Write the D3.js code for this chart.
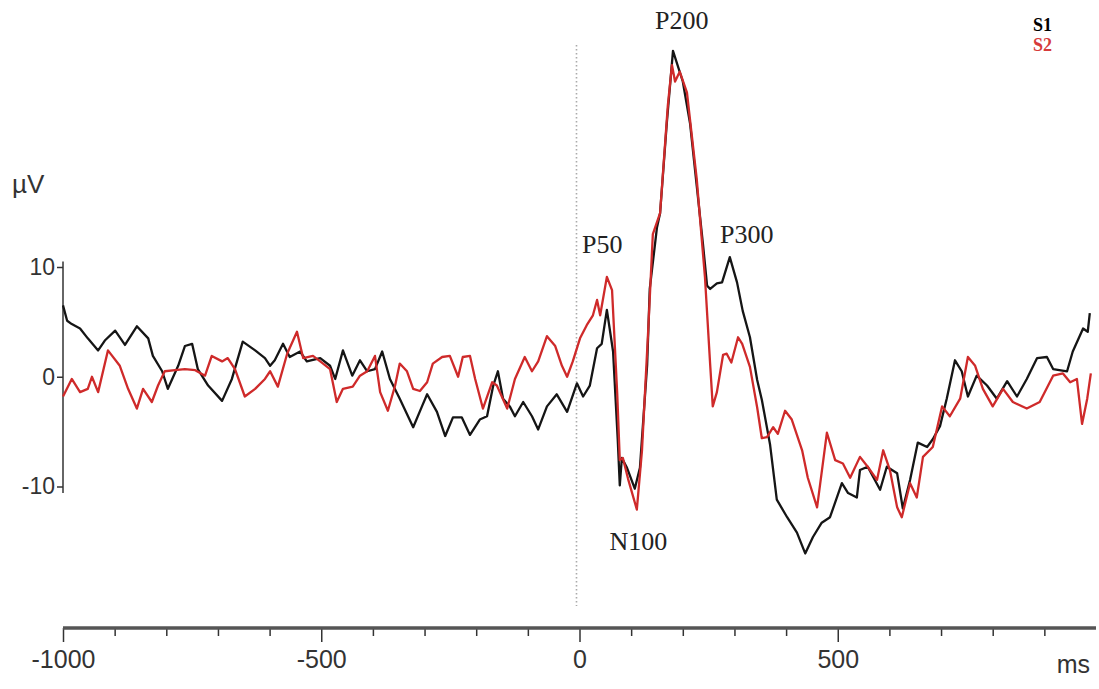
<!DOCTYPE html>
<meta charset="utf-8">
<script src="https://d3js.org/d3.v7.min.js"></script>
<style>
  body { margin: 0; background: #fff; }
  svg text { font-family: "Liberation Sans", Arial, sans-serif; }
</style>
<div id="chart"></div>
<script>
// ERP traces, [time in ms, amplitude in µV]
const s1 = [[-1000,6.5],[-992,5.1],[-983,4.8],[-967,4.4],[-952,3.5],[-932,2.4],[-919,3.3],[-899,4.2],[-880,2.9],[-857,4.6],[-835,3.5],[-826,1.9],[-808,0.5],[-797,-1.1],[-777,1.0],[-764,2.8],[-750,3.0],[-739,0.7],[-719,-0.8],[-692,-2.2],[-673,-0.2],[-652,3.2],[-628,2.4],[-609,1.7],[-599,1.0],[-590,1.5],[-574,3.0],[-561,1.8],[-541,2.3],[-528,1.4],[-502,1.7],[-483,1.0],[-473,-0.2],[-458,2.4],[-440,0.1],[-425,1.5],[-411,0.5],[-396,0.7],[-382,2.3],[-367,-0.2],[-348,-2.0],[-322,-4.6],[-305,-2.7],[-295,-1.6],[-276,-3.2],[-260,-5.4],[-245,-3.7],[-228,-3.7],[-212,-5.3],[-193,-3.9],[-179,-3.6],[-167,-0.8],[-158,0.5],[-148,-2.0],[-135,-2.7],[-125,-3.6],[-109,-2.3],[-92,-3.6],[-80,-4.8],[-63,-2.7],[-44,-1.6],[-24,-3.2],[-5,-0.6],[7,-1.8],[20,-0.8],[34,2.6],[43,3.0],[53,6.1],[65,2.3],[74,-5.7],[78,-9.9],[82,-7.4],[92,-8.3],[107,-10.2],[117,-8.3],[131,1.1],[136,8.0],[150,13.6],[156,14.9],[169,23.1],[181,29.7],[200,26.9],[214,23.1],[227,17.4],[239,12.1],[247,8.3],[253,8.0],[266,8.5],[276,8.6],[291,10.9],[305,8.6],[316,6.0],[330,3.6],[344,-0.3],[353,-2.1],[369,-6.2],[382,-11.2],[402,-12.8],[421,-14.2],[437,-16.1],[452,-14.6],[469,-13.3],[485,-12.8],[508,-9.7],[520,-10.6],[537,-11.0],[543,-8.5],[558,-8.2],[582,-10.3],[595,-8.2],[615,-8.8],[626,-12.0],[640,-9.4],[655,-6.0],[673,-6.4],[684,-5.7],[698,-4.5],[711,-2.0],[727,1.5],[740,0.5],[752,-1.8],[769,0.1],[789,-0.8],[808,-2.0],[828,-0.4],[847,-1.8],[866,-0.2],[886,1.7],[905,1.8],[917,0.7],[944,0.5],[955,2.3],[975,4.4],[984,4.1],[988,5.8]];

const s2 = [[-1000,-1.8],[-983,-0.2],[-967,-1.4],[-952,-1.1],[-944,0],[-932,-1.4],[-913,2.4],[-890,1.0],[-874,-1.1],[-857,-2.9],[-845,-1.1],[-828,-2.3],[-816,-0.8],[-803,0.5],[-783,0.6],[-764,0.7],[-744,0.6],[-725,0.1],[-712,1.9],[-692,1.4],[-681,1.7],[-667,0.7],[-648,-1.8],[-628,-1.1],[-609,-0.2],[-599,0.5],[-584,-0.9],[-566,2.1],[-547,4.1],[-535,1.7],[-516,1.9],[-502,1.4],[-483,0.7],[-470,-2.3],[-458,-1.1],[-439,-0.9],[-425,0.1],[-411,0.5],[-396,1.9],[-386,-1.4],[-371,-3.1],[-357,-0.8],[-348,1.2],[-334,0.5],[-322,-1.1],[-309,-1.3],[-295,-0.5],[-284,1.2],[-266,1.8],[-251,1.9],[-235,0],[-226,1.8],[-212,1.9],[-202,-0.2],[-187,-2.9],[-169,-0.5],[-160,-0.8],[-140,-2.9],[-125,-0.2],[-106,1.8],[-92,0.5],[-80,1.4],[-63,3.7],[-47,2.8],[-34,1.0],[-24,0],[-13,1.4],[1,3.5],[14,4.7],[26,5.6],[34,7.0],[40,5.6],[53,9.1],[63,7.9],[73,-1.5],[78,-7.6],[84,-7.4],[94,-9.3],[111,-12.1],[121,-6.7],[133,4.2],[142,13.0],[156,14.9],[171,24.7],[179,28.4],[185,26.9],[194,27.8],[208,25.9],[227,18.0],[243,9.0],[253,1.1],[258,-2.7],[266,-1.4],[278,2.0],[285,2.1],[294,1.3],[307,3.6],[315,3.0],[330,0.9],[344,-2.8],[353,-5.6],[363,-5.5],[375,-4.6],[384,-5.2],[398,-3.1],[411,-3.9],[431,-6.7],[442,-9.2],[460,-11.9],[479,-5.1],[495,-7.6],[510,-7.9],[524,-9.2],[543,-7.3],[558,-8.2],[576,-9.4],[588,-6.7],[601,-8.5],[615,-11.9],[624,-12.8],[640,-9.7],[653,-11.0],[665,-7.3],[684,-6.4],[702,-2.7],[717,-3.6],[737,-2.0],[752,1.8],[766,1.0],[781,-1.1],[800,-2.7],[820,-1.1],[839,-2.3],[866,-2.9],[891,-2.3],[917,0.1],[936,0.3],[950,-0.5],[963,-0.2],[973,-4.3],[983,-2.0],[990,0.3]];

const series = [
  {name: "S1", values: s1, color: "#151515", label: "#000"},
  {name: "S2", values: s2, color: "#cf2a2a", label: "#d63a3a"}
];

// axis ticks
const xMajorTicks = [-1000, -500, 0, 500];
const xMinorTicks = [-900, -800, -700, -600, -400, -300, -200, -100, 100, 200, 300, 400, 600, 700, 800, 900];
const yTicks = [-10, 0, 10];

// component labels [name, time, amplitude] (text anchor point)
const peaks = [["P200", 198, 31.7], ["P50", 5, 11.3], ["P300", 272, 12.2], ["N100", 58, -15.8]];

const width = 1099, height = 689;

const svg = d3.select("#chart")
  .append("svg")
  .attr("width", width)
  .attr("height", height);

const x = d3.scaleLinear().domain([-1000, 1000]).range([63, 1096]);
const y = d3.scaleLinear().domain([-10, 10]).range([486.5, 267]);

// stimulus onset (dotted)
svg.append("line")
  .attr("x1", x(0) - 3).attr("x2", x(0) - 3)
  .attr("y1", 45).attr("y2", 606)
  .attr("stroke", "#aaa")
  .attr("stroke-width", 1.6)
  .attr("stroke-dasharray", "1.5,2.5");

// Y axis
const yAxis = svg.append("g")
  .attr("transform", "translate(63,0)")
  .call(d3.axisLeft(y).tickValues(yTicks).tickSize(6).tickSizeOuter(0).tickPadding(2).tickFormat(d => String(d)));
yAxis.select(".domain").remove();
yAxis.selectAll("line").attr("stroke", "#333").attr("stroke-width", 1.5);
yAxis.selectAll("text").attr("font-size", 23).attr("fill", "#333");
yAxis.append("line")
  .attr("y1", y(10.5)).attr("y2", y(-10.6))
  .attr("stroke", "#333").attr("stroke-width", 1.5);

svg.append("text")
  .attr("x", 12).attr("y", 193)
  .attr("font-size", 26)
  .attr("fill", "#333")
  .text("µV");

// X axis
const xg = svg.append("g").attr("transform", "translate(0,628)");
xg.append("g")
  .call(d3.axisBottom(x).tickValues(xMinorTicks).tickSize(8).tickFormat(""))
  .call(g => g.select(".domain").remove())
  .selectAll("line").attr("stroke", "#333").attr("stroke-width", 1.5);
const xMajor = xg.append("g")
  .call(d3.axisBottom(x).tickValues(xMajorTicks).tickSize(14).tickPadding(8).tickFormat(d => String(d)))
  .call(g => g.select(".domain").remove());
xMajor.selectAll("line").attr("stroke", "#333").attr("stroke-width", 1.5);
xMajor.selectAll("text").attr("font-size", 25).attr("fill", "#333");
xg.append("line")
  .attr("x1", x(-1000)).attr("x2", x(1000))
  .attr("stroke", "#555").attr("stroke-width", 3.5);

svg.append("text")
  .attr("x", 1090).attr("y", 673)
  .attr("text-anchor", "end")
  .attr("font-size", 25)
  .attr("fill", "#333")
  .text("ms");

// traces
const line = d3.line()
  .x(d => x(d[0]))
  .y(d => y(d[1]));

svg.selectAll(".trace")
  .data(series)
  .join("path")
    .attr("class", "trace")
    .attr("d", d => line(d.values))
    .attr("fill", "none")
    .attr("stroke", d => d.color)
    .attr("stroke-width", 2.3)
    .attr("stroke-linejoin", "round");

// component labels
svg.selectAll(".peak")
  .data(peaks)
  .join("text")
    .attr("class", "peak")
    .attr("x", d => x(d[1]))
    .attr("y", d => y(d[2]))
    .attr("text-anchor", d => d[0] === "P200" ? "middle" : "start")
    .style("font-family", "'Liberation Serif', 'Times New Roman', serif")
    .attr("font-size", 26)
    .attr("fill", "#222")
    .text(d => d[0]);

// legend
svg.selectAll(".legend")
  .data(series)
  .join("text")
    .attr("class", "legend")
    .attr("x", 1033)
    .attr("y", (d, i) => 31 + i * 20)
    .style("font-family", "'Liberation Serif', 'Times New Roman', serif")
    .attr("font-weight", "bold")
    .attr("font-size", 18)
    .attr("fill", d => d.label)
    .text(d => d.name);
</script>
